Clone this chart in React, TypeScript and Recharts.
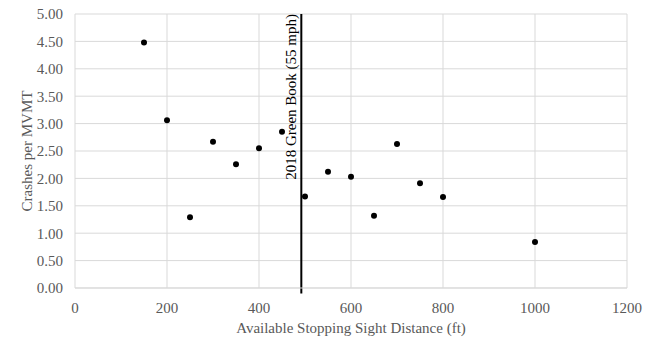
import React from 'react';
import {
  ScatterChart,
  Scatter,
  XAxis,
  YAxis,
  CartesianGrid,
  ReferenceLine,
} from 'recharts';

const distances = [150, 200, 250, 300, 350, 400, 450, 500, 550, 600, 650, 700, 750, 800, 1000];
const crashRates = [4.48, 3.06, 1.29, 2.67, 2.26, 2.55, 2.85, 1.67, 2.12, 2.03, 1.32, 2.63, 1.91, 1.66, 0.84];
const xTicks = [0, 200, 400, 600, 800, 1000, 1200];
const yTicks = [0, 0.5, 1, 1.5, 2, 2.5, 3, 3.5, 4, 4.5, 5];
const greenBookSSD = 492;
const greenBookLabel = '2018 Green Book (55 mph)';

const points = distances.map((d, i) => ({ x: d, y: crashRates[i] }));

const font = '"Liberation Serif", "Times New Roman", serif';

const GreenBookLabel = (props: any) => {
  const vb = props.viewBox || {};
  const x = vb.x - 5;
  const y = vb.y;
  return (
    <text
      x={x}
      y={y}
      transform={`rotate(-90 ${x} ${y})`}
      textAnchor="end"
      fontFamily={font}
      fontSize={15}
      fill="#000"
    >
      {greenBookLabel}
    </text>
  );
};

export default function App() {
  return (
    <div style={{ position: 'absolute', left: 0, top: 0, background: '#fff' }}>
      <ScatterChart
        width={648}
        height={339}
        margin={{ top: 14, right: 21, bottom: 0, left: 0 }}
      >
        <CartesianGrid stroke="#d9d9d9" strokeWidth={1} />
        <XAxis
          type="number"
          dataKey="x"
          domain={[0, 1200]}
          ticks={xTicks}
          height={51}
          axisLine={{ stroke: '#d9d9d9' }}
          tickLine={false}
          tickMargin={8}
          tick={{ fill: '#595959', fontFamily: font, fontSize: 15 }}
          label={{
            value: 'Available Stopping Sight Distance (ft)',
            position: 'insideBottom',
            offset: 6,
            fill: '#595959',
            fontFamily: font,
            fontSize: 15,
          }}
        />
        <YAxis
          type="number"
          dataKey="y"
          domain={[0, 5]}
          ticks={yTicks}
          width={75}
          axisLine={false}
          tickLine={false}
          tickMargin={6}
          tickFormatter={(v: number) => v.toFixed(2)}
          tick={{ fill: '#595959', fontFamily: font, fontSize: 15 }}
          label={{
            value: 'Crashes per MVMT',
            angle: -90,
            position: 'insideLeft',
            offset: 27,
            style: { textAnchor: 'middle' },
            fill: '#595959',
            fontFamily: font,
            fontSize: 15,
          }}
        />
        <ReferenceLine
          segment={[
            { x: greenBookSSD, y: -0.1 },
            { x: greenBookSSD, y: 5 },
          ]}
          ifOverflow="visible"
          stroke="#000"
          strokeWidth={2}
          label={<GreenBookLabel />}
        />
        <Scatter data={points} fill="#000" isAnimationActive={false} shape={(p: any) => <circle cx={p.cx} cy={p.cy} r={3} fill="#000" />} />
      </ScatterChart>
    </div>
  );
}
